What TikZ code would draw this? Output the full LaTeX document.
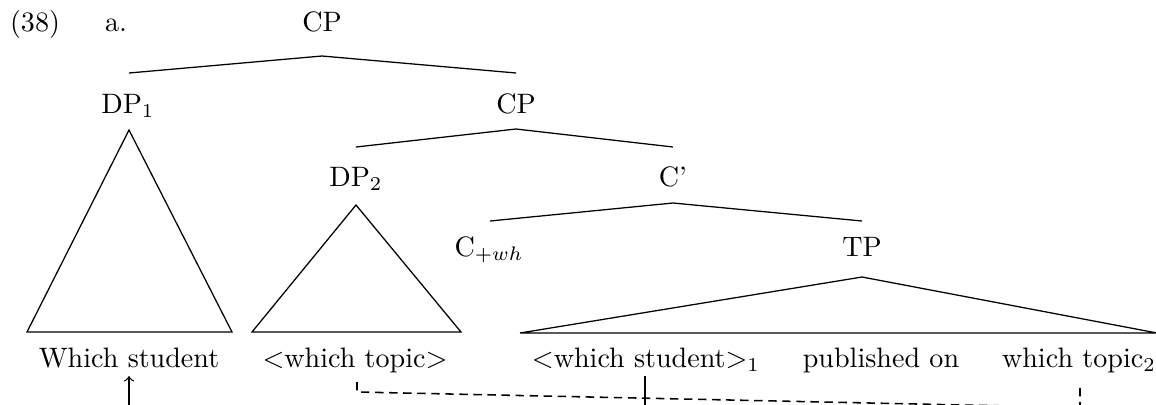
\documentclass[tikz,border=0pt]{standalone}
\begin{document}
\begin{tikzpicture}[x=0.356pt,y=-0.356pt,
  lab/.style={inner sep=0pt, anchor=base},
  br/.style={line width=0.45pt},
  mv/.style={line width=0.55pt, dash pattern=on 3pt off 2pt}]
\useasboundingbox (0,0) rectangle (1156,404);
\clip (0,0) rectangle (1156,404);
% labels
\node[lab] (ex)  at (35,31.5)   {(38)};
\node[lab] (a)   at (116,31.5)  {a.};
\node[lab] (cp1) at (322,31.5)  {CP};
\node[lab] (dp1) at (128,113.5) {DP$_1$};
\node[lab] (cp2) at (516,113.5) {CP};
\node[lab] (dp2) at (356,186.5) {DP$_2$};
\node[lab] (cb)  at (673,186.5) {C'};
\node[lab] (c)   at (489,256.5) {C$_{+wh}$};
\node[lab] (tp)  at (862,256.5) {TP};
\node[lab] (ws)  at (129,367)   {Which student};
\node[lab] (wt)  at (355,367)   {$<$which topic$>$};
\node[lab] (ws1) at (646,367)   {$<$which student$>_1$};
\node[lab] (po)  at (881,367)   {published on};
\node[lab] (wt2) at (1079,367)  {which topic$_2$};
% branch points
\coordinate (cp1b) at (322,56);
\coordinate (dp1t) at (129,73);
\coordinate (cp2t) at (516,73);
\coordinate (cp2b) at (516,129);
\coordinate (dp2t) at (356,147);
\coordinate (cbt)  at (673,147);
\coordinate (cbb)  at (673,203);
\coordinate (ct)   at (490,221);
\coordinate (tpt)  at (862,221);
\coordinate (tr1a) at (129,130);
\coordinate (tr1l) at (27,332);
\coordinate (tr1r) at (232,332);
\coordinate (tr2a) at (356,205);
\coordinate (tr2l) at (252,332);
\coordinate (tr2r) at (461,332);
\coordinate (tr3a) at (862,277);
\coordinate (tr3l) at (520,333);
\coordinate (tr3r) at (1157,333);
% tree
\draw[br] (dp1t) -- (cp1b) -- (cp2t);
\draw[br] (dp2t) -- (cp2b) -- (cbt);
\draw[br] (ct) -- (cbb) -- (tpt);
\draw[br] (tr1l) -- (tr1a) -- (tr1r) -- cycle;
\draw[br] (tr2l) -- (tr2a) -- (tr2r) -- cycle;
\draw[br] (tr3l) -- (tr3a) -- (tr3r) -- (tr3l);
% movement lines
\coordinate (arb) at (129,412);
\draw[br,->] (arb) -- (129,376);
\coordinate (m1) at (357,382);
\coordinate (m2) at (357,392);
\coordinate (m3) at (1080,407.5);
\coordinate (m4) at (1080,383);
\draw[mv] (m1) -- (m2) -- (m3) -- (m4);
\coordinate (s1) at (645,376);
\coordinate (s2) at (645,412);
\draw[br] (s1) -- (s2);
\end{tikzpicture}
\end{document}
